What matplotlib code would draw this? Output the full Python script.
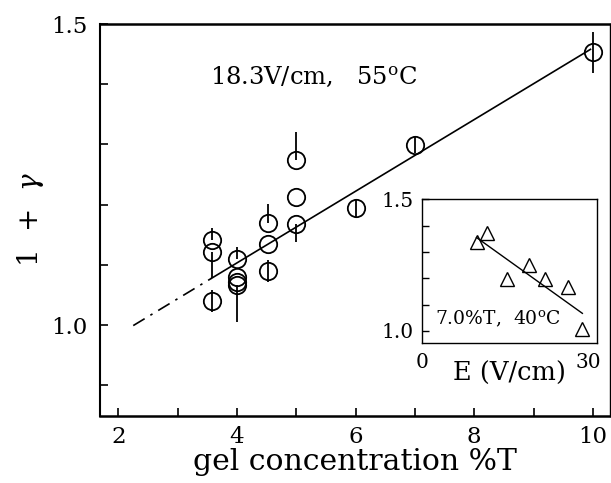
import numpy as np
import matplotlib
matplotlib.use("Agg")
import matplotlib.pyplot as plt
from matplotlib.ticker import MultipleLocator, FixedLocator

plt.rcParams['font.family'] = ['DejaVu Serif']
plt.rcParams['mathtext.fontset'] = 'dejavuserif'

# main panel: 1+gamma vs gel concentration
conc = [3.57, 3.57, 3.57, 4.0, 4.0, 4.0, 4.0, 4.52, 4.52, 4.52, 5.0, 5.0, 5.0, 6.0, 7.0, 10.0]
gamma1 = [1.141, 1.121, 1.040, 1.109, 1.080, 1.072, 1.066, 1.169, 1.134, 1.090,
          1.274, 1.212, 1.168, 1.195, 1.299, 1.453]
err_lo = [0.000, 0.043, 0.018, 0.000, 0.000, 0.000, 0.061, 0.000, 0.000, 0.018,
          0.000, 0.000, 0.030, 0.015, 0.014, 0.034]
err_hi = [0.021, 0.000, 0.018, 0.021, 0.000, 0.000, 0.000, 0.032, 0.000, 0.018,
          0.046, 0.000, 0.000, 0.015, 0.014, 0.034]

fit_slope = 0.0595
fit_icpt = 0.8653
fit_x_solid = [3.575, 9.96]
fit_x_dash = [2.25, 3.575]

# inset: 1+gamma vs field at 7.0 %T, 40 C
field = [9.97, 11.65, 15.35, 19.2, 22.1, 26.2, 28.7]
gamma_in = [1.339, 1.371, 1.196, 1.249, 1.199, 1.165, 1.005]
in_slope = -0.0152
in_icpt = 1.505
in_fit_x = [9.85, 28.85]

fig = plt.figure(figsize=(6.11, 4.83), dpi=100)
ax = fig.add_axes([0.1637, 0.1387, 0.8347, 0.8116])

ax.errorbar(conc, gamma1, yerr=[err_lo, err_hi], fmt='o', ms=12.5, mfc='none',
            mec='black', mew=1.3, ecolor='black', elinewidth=1.3, capsize=0, zorder=3)
xs = np.array(fit_x_solid)
ax.plot(xs, fit_icpt + fit_slope * xs, color='black', lw=1.2)
xd = np.array(fit_x_dash)
ax.plot(xd, fit_icpt + fit_slope * xd, color='black', lw=1.2, ls=(0, (8, 4, 1.5, 4)))

ax.set_xlim(1.69, 10.29)
ax.set_ylim(0.849, 1.5)
ax.xaxis.set_major_locator(MultipleLocator(2))
ax.xaxis.set_minor_locator(MultipleLocator(1))
ax.yaxis.set_major_locator(FixedLocator([1.0, 1.5]))
ax.yaxis.set_minor_locator(MultipleLocator(0.1))
ax.set_yticklabels(['1.0', '1.5'])
ax.tick_params(which='both', direction='in', length=6, width=1.2, labelsize=16.5,
               top=False, right=False)
ax.tick_params(axis='x', pad=7)
ax.tick_params(axis='y', pad=9)
ax.spines['top'].set_linewidth(1.8)
ax.spines['left'].set_linewidth(1.5)
ax.spines['bottom'].set_linewidth(1.8)
ax.spines['right'].set_linewidth(1.0)

ax.set_xlabel('gel concentration %T', fontsize=21.5, labelpad=0)
ax.set_ylabel(r'1  +  $\gamma$', fontsize=20)
ax.yaxis.set_label_coords(-0.105, 0.5)
ax.text(3.55, 1.412, r'18.3V/cm,   55$^{\rm o}$C', fontsize=17.5, va='center', ha='left')

# inset
axi = fig.add_axes([0.690, 0.289, 0.2864, 0.298])
axi.plot(field, gamma_in, ls='none', marker='^', ms=10, mfc='none', mec='black', mew=1.0)
xi = np.array(in_fit_x)
axi.plot(xi, in_icpt + in_slope * xi, color='black', lw=1.0)
axi.set_xlim(0, 31.4)
axi.set_ylim(0.952, 1.5)
axi.xaxis.set_major_locator(FixedLocator([0, 30]))
axi.yaxis.set_major_locator(FixedLocator([1.0, 1.5]))
axi.yaxis.set_minor_locator(MultipleLocator(0.1))
axi.set_yticklabels(['1.0', '1.5'])
axi.tick_params(which='both', direction='in', length=5, width=1.0, labelsize=14.5,
                top=False, right=False)
axi.tick_params(axis='x', length=0, pad=7)
axi.tick_params(axis='y', pad=6)
for s in axi.spines.values():
    s.set_linewidth(1.0)
axi.set_xlabel('E (V/cm)', fontsize=18.5, labelpad=-8)
axi.text(0.436, 0.169, r'7.0%T,  40$^{\rm o}$C', transform=axi.transAxes,
         fontsize=13.5, ha='center', va='center')

fig.savefig('out.png', dpi=100)
